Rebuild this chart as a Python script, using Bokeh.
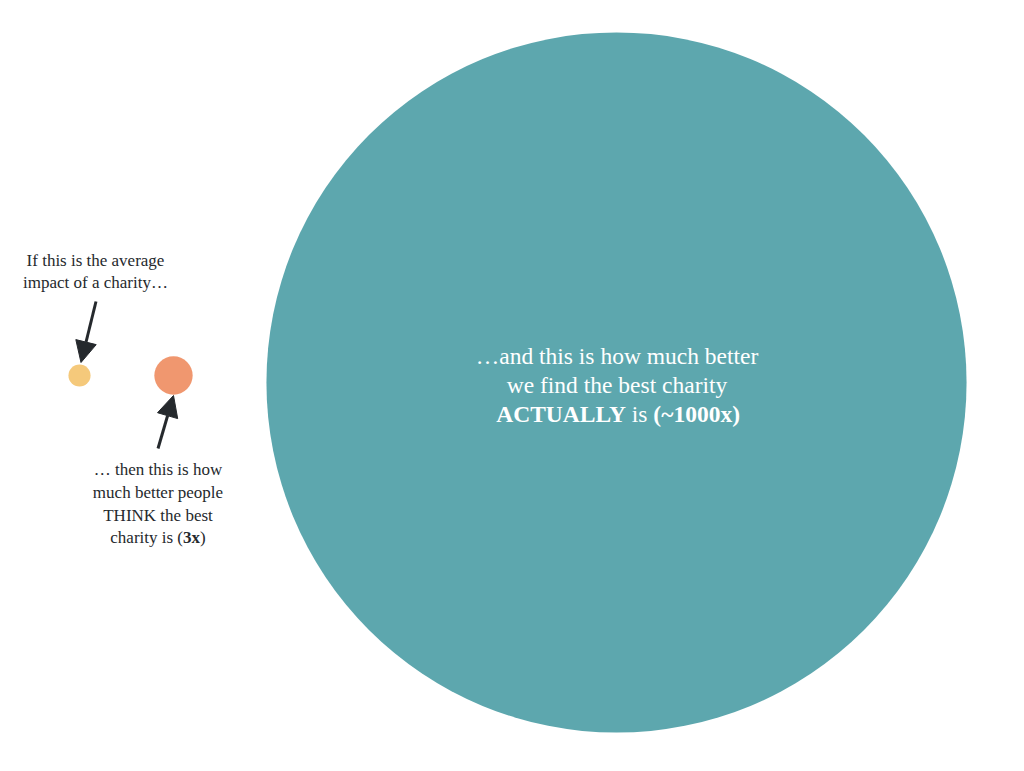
import math
from bokeh.plotting import figure
from bokeh.models import Range1d, Arrow, NormalHead, ColumnDataSource
from bokeh.core.properties import value
from bokeh.embed import file_html
from bokeh.resources import INLINE

# ---------------- data ----------------
labels = ["average charity", "what people think the best is", "what the best actually is"]
impact = [1, 3, 1000]          # relative impact (circle area proportional)
colors = ["#F5C97B", "#F0976F", "#5DA7AE"]

text_avg = ["If this is the average", "impact of a charity…"]
text_think = [[("… then this is how", False)],
              [("much better people", False)],
              [("THINK the best", False)],
              [("charity is (", False), ("3x", True), (")", False)]]
text_actual = [[("…and this is how much better", False)],
               [("we find the best charity", False)],
               [("ACTUALLY", True), (" is ", False), ("(~1000x)", True)]]

# ---------------- layout (screen pixels) ----------------
W, H = 1008, 755
cx = [79, 173, 616]
cy = [375, 375, 382]
base_r = 11.07
FONT = "Liberation Serif"
DARK = "#25292D"

p = figure(width=W, height=H, output_backend="svg", toolbar_location=None,
           x_range=Range1d(0, W), y_range=Range1d(H, 0),
           min_border=0, tools="")
p.axis.visible = False
p.grid.visible = False
p.outline_line_color = None
p.background_fill_color = "white"
p.border_fill_color = "white"

radii = [base_r * math.sqrt(v) for v in impact]
src = ColumnDataSource(dict(x=cx, y=cy, r=radii, c=colors, label=labels))
p.circle(x="x", y="y", radius="r", fill_color="c", line_color=None, source=src)

# ---- text width estimates (Times metrics, per 1000 em) ----
REG = {' ': 250, '(': 333, ')': 333, '.': 250, '~': 541, 'x': 500, '…': 1000,
       'a': 444, 'b': 500, 'c': 444, 'd': 500, 'e': 444, 'f': 333, 'g': 500, 'h': 500,
       'i': 278, 'j': 278, 'k': 500, 'l': 278, 'm': 778, 'n': 500, 'o': 500, 'p': 500,
       'q': 500, 'r': 333, 's': 389, 't': 278, 'u': 500, 'v': 500, 'w': 722, 'y': 500,
       'z': 444, 'A': 722, 'C': 667, 'H': 722, 'I': 333, 'K': 722, 'L': 611, 'N': 722,
       'T': 611, 'U': 722, 'Y': 722}
BOLD = {' ': 250, '(': 333, ')': 333, '~': 520, 'x': 500, 'A': 722, 'C': 722, 'T': 667,
        'U': 722, 'L': 667, 'Y': 722, 'i': 278, 's': 389}


def width(s, bold, size):
    tab = BOLD if bold else REG
    return sum(tab.get(ch, 500) for ch in s) * size / 1000.0


def put(x, y, s, bold, size, color, align):
    p.text(x=[x], y=[y], text=[s], text_font=value(FONT), text_font_size=f"{size}px",
           text_font_style="bold" if bold else "normal", text_color=color,
           text_align=align, text_baseline="alphabetic")


def draw_line(segments, xc, y, size, color):
    if len(segments) == 1:
        put(xc, y, segments[0][0], segments[0][1], size, color, "center")
        return
    widths = [width(s, b, size) for s, b in segments]
    x = xc - sum(widths) / 2.0
    for k, ((s, b), w) in enumerate(zip(segments, widths)):
        lead = len(s) - len(s.lstrip(' '))
        trail = len(s) - len(s.rstrip(' '))
        st = s.strip(' ')
        if k == 0:
            put(x + w - width(' ' * trail, b, size), y, st, b, size, color, "right")
        else:
            put(x + width(' ' * lead, b, size), y, st, b, size, color, "left")
        x += w


# block 1
for i, line in enumerate(text_avg):
    draw_line([(line, False)], 95, 260 + i * 21.5, 17, DARK)
# block 2
for i, segs in enumerate(text_think):
    draw_line(segs, 157.5, 469 + i * 22.8, 17, DARK)
# big circle text
for i, segs in enumerate(text_actual):
    draw_line(segs, 616.5, 355 + i * 29.3, 23.5, "white")

# arrows
p.add_layout(Arrow(end=NormalHead(size=21, fill_color=DARK, line_color=DARK, line_width=1),
                   x_start=95.5, y_start=301, x_end=80.5, y_end=362,
                   line_color=DARK, line_width=3))
p.add_layout(Arrow(end=NormalHead(size=21, fill_color=DARK, line_color=DARK, line_width=1),
                   x_start=157.5, y_start=448, x_end=173, y_end=395,
                   line_color=DARK, line_width=3))

open("out.html", "w").write(file_html(p, INLINE))
